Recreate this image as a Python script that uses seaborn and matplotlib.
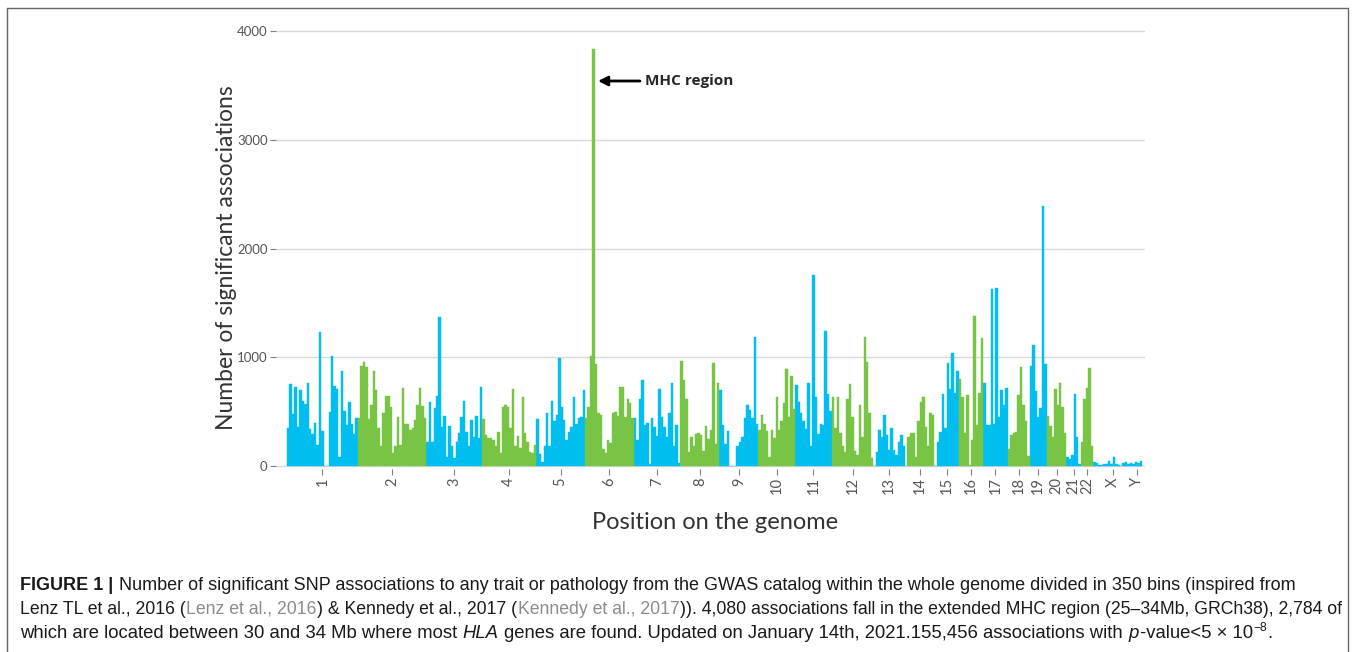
import matplotlib
matplotlib.use("Agg")
import matplotlib.pyplot as plt
import numpy as np
import pandas as pd
import seaborn as sns

# GWAS catalog associations per genome bin (350 bins)
chrom_names = [str(i) for i in range(1, 23)] + ["X", "Y"]

chr1 = [350, 750, 480, 730, 355, 700, 600, 570, 760, 340, 290, 400, 190, 1230, 320,
        0, 0, 500, 1010, 740, 710, 80, 870, 510, 380, 590, 390, 290, 440]
chr2 = [440, 920, 960, 910, 430, 560, 870, 700, 350, 185, 490, 645, 640, 540, 115,
        185, 455, 195, 715, 390, 390, 330, 345, 425, 565, 720, 550, 440]
chr3 = [225, 590, 225, 530, 640, 1370, 360, 460, 85, 370, 180, 70, 225, 300, 455,
        600, 315, 180, 425, 265, 460, 255, 730]
chr4 = [430, 285, 255, 260, 240, 180, 315, 115, 540, 560, 540, 345, 705, 185, 275,
        170, 630, 305, 225, 125, 115, 195]
chr5 = [430, 110, 40, 185, 485, 180, 600, 415, 470, 990, 540, 425, 240, 315, 360,
        630, 385, 445, 455, 700]
chr6 = [440, 540, 1010, 3830, 940, 485, 470, 160, 115, 235, 215, 485, 500, 460, 730,
        730, 455, 615, 580, 445]
chr7 = [440, 240, 620, 790, 375, 400, 20, 445, 360, 275, 705, 455, 360, 270, 490,
        765, 180, 375, 25]
chr8 = [965, 795, 620, 130, 265, 180, 295, 300, 285, 140, 370, 245, 335, 950, 200, 765]
chr9 = [695, 375, 200, 325, 0, 0, 0, 185, 225, 265, 440, 560, 515, 445, 1190, 385]
chr10 = [335, 470, 390, 325, 85, 330, 255, 630, 330, 410, 575, 890, 455, 830, 520]
chr11 = [745, 590, 485, 410, 340, 760, 180, 1760, 630, 295, 390, 375, 1240, 660, 505]
chr12 = [635, 345, 635, 300, 180, 125, 615, 755, 455, 140, 100, 565, 270, 1190, 960,
         485, 70]
chr13 = [0, 130, 330, 270, 470, 285, 145, 345, 145, 105, 225, 285, 180]
chr14 = [0, 270, 305, 300, 85, 410, 590, 635, 360, 185, 485, 470]
chr15 = [0, 225, 315, 660, 345, 945, 705, 1040, 670, 870]
chr16 = [800, 635, 300, 655, 10, 240, 1380, 375, 670, 1180]
chr17 = [760, 375, 380, 1630, 385, 1640, 455, 695, 560, 715]
chr18 = [160, 285, 305, 315, 650, 910, 560, 410, 90]
chr19 = [920, 1110, 690, 455, 530, 2390, 940]
chr20 = [460, 370, 270, 705, 560, 765, 545, 300]
chr21 = [80, 60, 100, 660, 270, 20]
chr22 = [225, 620, 715, 905, 185]
chrX = [40, 30, 10, 10, 15, 20, 45, 20, 80, 15, 5, 3, 30, 40, 15, 30]
chrY = [15, 40, 25, 50]

chrom_values = [chr1, chr2, chr3, chr4, chr5, chr6, chr7, chr8, chr9, chr10, chr11,
                chr12, chr13, chr14, chr15, chr16, chr17, chr18, chr19, chr20, chr21,
                chr22, chrX, chrY]
chrom_group = ["odd", "even"] * 11 + ["odd", "odd"]

blue = "#00BFF0"
green = "#78C545"

rows = []
centers = []
i = 0
for name, vals, grp in zip(chrom_names, chrom_values, chrom_group):
    centers.append(i + (len(vals) - 1) / 2)
    for v in vals:
        rows.append((i, v, name, grp))
        i += 1
df = pd.DataFrame(rows, columns=["bin", "count", "chrom", "group"])
peak = int(df["count"].idxmax())

sns.set_theme(style="white")
plt.rcParams["font.family"] = ["Lato", "DejaVu Sans"]

W, H = 1355, 652
fig = plt.figure(figsize=(W / 100, H / 100), dpi=100)
ax = fig.add_axes([276 / W, 1 - 469 / H, (1145 - 276) / W, (469 - 20) / H])

sns.barplot(data=df, x="bin", y="count", hue="group", palette={"odd": blue, "even": green},
            dodge=False, width=1, native_scale=True, errorbar=None, legend=False,
            linewidth=0, saturation=1, ax=ax)
for p in ax.patches:
    p.set_edgecolor(p.get_facecolor())
    p.set_linewidth(0.3)

px_per_bin = (1142 - 287) / 350
ax.set_xlim(-0.5 - 11 / px_per_bin, 349.5 + 3 / px_per_bin)
ppu = (466 - 31) / 4000
ax.set_ylim(-3 / ppu, (466 - 20) / ppu)

ax.set_yticks([0, 1000, 2000, 3000, 4000])
ax.set_xticks(centers, chrom_names, rotation=90)
ax.yaxis.grid(True, color="#d9d9d9", lw=1)
ax.set_axisbelow(True)
for s in ax.spines.values():
    s.set_visible(False)
ax.tick_params(axis="both", bottom=True, left=True, length=4, width=0.8, color="#7f7f7f",
               labelcolor="#555555", pad=2)
ax.tick_params(axis="x", labelsize=10.5)
ax.tick_params(axis="y", labelsize=9.5)

ax.set_ylabel("Number of significant associations", fontsize=16.5, color="#333333")
ax.yaxis.set_label_coords((237 - 276) / 869, (469 - 258) / 449)
ax.set_xlabel("Position on the genome", fontsize=17, color="#333333")
ax.xaxis.set_label_coords((715 - 276) / 869, -(512 - 469) / 449)

ann_y = (466 - 81) / ppu
ax.annotate("", xy=(peak + 1.8, ann_y), xytext=(peak + 19, ann_y),
            arrowprops=dict(arrowstyle="-|>", color="black", lw=2, mutation_scale=14,
                            shrinkA=0, shrinkB=0))
ax.text(peak + 21, ann_y, "MHC region", fontsize=11, fontweight="bold", va="center",
        family=["Open Sans", "DejaVu Sans"])

# caption, drawn piece by piece
cap_font = ["Liberation Sans", "DejaVu Sans"]
r = fig.canvas.get_renderer()


def caption_line(parts, x_px, y_px, size):
    probe1 = fig.text(0, 0, "x x", fontsize=size, family=cap_font)
    probe2 = fig.text(0, 0, "xx", fontsize=size, family=cap_font)
    space_w = probe1.get_window_extent(r).width - probe2.get_window_extent(r).width
    probe1.remove()
    probe2.remove()
    x = x_px
    for text, style in parts:
        kw = dict(fontsize=size, family=cap_font, color="#1a1a1a")
        dy = 0
        if style == "bold":
            kw["fontweight"] = "bold"
        if style == "gray":
            kw["color"] = "#8c8c8c"
        if style == "italic":
            kw["fontstyle"] = "italic"
        if style == "sup":
            kw["fontsize"] = size * 0.65
            dy = 7
        lead = len(text) - len(text.lstrip(" "))
        trail = len(text) - len(text.rstrip(" "))
        x += lead * space_w
        t = fig.text(x / W, 1 - (y_px - dy) / H, text.strip(" "), **kw)
        x = t.get_window_extent(r).x1 + trail * space_w + 0.5


caption_line([("FIGURE 1 |", "bold"),
              (" Number of significant SNP associations to any trait or pathology from the "
               "GWAS catalog within the whole genome divided in 350 bins (inspired from", "n")],
             20, 590, 12.95)
caption_line([("Lenz TL et al., 2016 (", "n"), ("Lenz et al., 2016", "gray"),
              (") & Kennedy et al., 2017 (", "n"), ("Kennedy et al., 2017", "gray"),
              (")). 4,080 associations fall in the extended MHC region (25\u201334Mb, GRCh38), "
               "2,784 of", "n")],
             20, 614, 12.7)
caption_line([("which are located between 30 and 34 Mb where most ", "n"), ("HLA", "italic"),
              (" genes are found. Updated on January 14th, 2021.155,456 associations with ", "n"),
              ("p", "italic"), ("-value<5 \u00d7 10", "n"), ("\u22128", "sup"), (".", "n")],
             20, 638, 13.3)

# outer frame
for xs, ys in [((7, 1348), (8, 8)), ((7, 7), (8, 652)), ((1348, 1348), (8, 652))]:
    fig.add_artist(plt.Line2D([x / W for x in xs], [1 - y / H for y in ys],
                              color="#666666", lw=1))

fig.savefig("out.png", dpi=100)
